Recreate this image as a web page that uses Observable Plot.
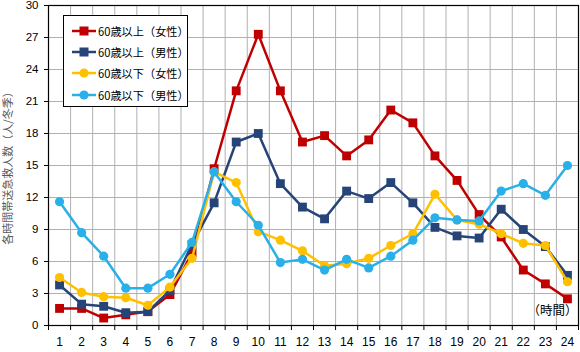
<!DOCTYPE html>
<html>
<head>
<meta charset="utf-8">
<script src="https://cdn.jsdelivr.net/npm/d3@7"></script>
<script src="https://cdn.jsdelivr.net/npm/@observablehq/plot@0.6"></script>
<style>
  html, body { margin: 0; padding: 0; background: #fff; }
  #wrap { position: relative; width: 580px; height: 352px; font-family: "Liberation Sans", Arial, sans-serif; }
  #legend { position: absolute; left: 63px; top: 15px; width: 125px; height: 92px; border: 1px solid #000; background: #fff; box-sizing: border-box; padding-top: 4px; }
  .row { display: flex; align-items: center; height: 21.3px; padding-left: 8px; white-space: nowrap; }
  .row svg { flex: none; }
  .row span { font-family: "Noto Sans CJK JP", sans-serif; font-size: 11.2px; margin-left: 2px; color: #000; white-space: nowrap; }
</style>
</head>
<body>
<div id="wrap"><div id="legend"></div></div>
<script>
const hours = d3.range(1, 25);
const seriesNames = ["60歳以上（女性）", "60歳以上（男性）", "60歳以下（女性）", "60歳以下（男性）"];
const seriesColors = ["#C00000", "#264478", "#FFC000", "#29B0E8"];
const seriesSymbols = ["square", "square", "circle", "circle"];

const over60Female = [1.6, 1.6, 0.7, 1.0, 1.3, 2.9, 6.8, 14.7, 22.0, 27.3, 22.0, 17.2, 17.8, 15.9, 17.4, 20.2, 19.0, 15.9, 13.6, 10.4, 8.3, 5.2, 3.9, 2.5];
const over60Male   = [3.8, 2.0, 1.8, 1.2, 1.3, 3.3, 7.6, 11.5, 17.2, 18.0, 13.3, 11.1, 10.0, 12.6, 11.9, 13.4, 11.5, 9.2, 8.4, 8.2, 10.9, 9.0, 7.4, 4.7];
const under60Female = [4.5, 3.1, 2.7, 2.6, 1.9, 3.6, 6.3, 14.4, 13.4, 8.8, 8.0, 7.0, 5.6, 5.8, 6.3, 7.5, 8.6, 12.3, 9.9, 9.5, 8.6, 7.7, 7.5, 4.1];
const under60Male  = [11.6, 8.7, 6.5, 3.5, 3.5, 4.8, 7.8, 14.4, 11.6, 9.4, 5.9, 6.2, 5.2, 6.2, 5.4, 6.5, 8.0, 10.1, 9.9, 9.8, 12.6, 13.3, 12.2, 15.0];
const seriesValues = [over60Female, over60Male, under60Female, under60Male];

const yTicks = d3.range(0, 31, 3);
const xBounds = d3.range(0.5, 25, 1);

const marks = [
  Plot.ruleY(yTicks.slice(1), {stroke: "#b0b0b0", strokeWidth: 1}),
  Plot.ruleX(xBounds.slice(1, -1), {stroke: "#b0b0b0", strokeWidth: 1}),
  Plot.frame({stroke: "#000", strokeWidth: 1.2}),
  Plot.axisY({ticks: yTicks, tickSize: 4, tickPadding: 6, fontSize: 11.5, label: null, tickFormat: d => d}),
  Plot.axisX({ticks: xBounds, tickSize: 5, tickFormat: () => "", label: null}),
  Plot.axisX({ticks: hours, tickSize: 0, tickPadding: 12, fontSize: 12, label: null, tickFormat: d => d}),
  Plot.text(["各時間帯送急救人数（人/冬季）"], {frameAnchor: "left", textAnchor: "middle", rotate: -90, dx: -40, fontSize: 11, fill: "#595959", fontFamily: "Noto Sans CJK JP"}),
  Plot.text(["（時間）"], {frameAnchor: "bottom-right", dx: -1, dy: -11, textAnchor: "end", fontSize: 12.5, fill: "#000", fontFamily: "Noto Sans CJK JP"})
];

seriesValues.forEach((vals, i) => {
  const data = hours.map((h, j) => ({h, v: vals[j]}));
  marks.push(Plot.line(data, {x: "h", y: "v", stroke: seriesColors[i], strokeWidth: 2.5}));
  marks.push(Plot.dot(data, {x: "h", y: "v", fill: seriesColors[i], stroke: "none", symbol: seriesSymbols[i], r: seriesSymbols[i] === "square" ? 5 : 4.6}));
});

const chart = Plot.plot({
  width: 580,
  height: 352,
  marginLeft: 48,
  marginRight: 2,
  marginTop: 5,
  marginBottom: 27,
  style: {fontFamily: "Liberation Sans, Arial, sans-serif", fontSize: "12px", color: "#000", background: "#fff", overflow: "visible"},
  x: {type: "linear", domain: [0.5, 24.5], axis: null},
  y: {domain: [0, 30], axis: null},
  marks
});
document.getElementById("wrap").prepend(chart);

const legend = document.getElementById("legend");
seriesNames.forEach((name, i) => {
  const row = document.createElement("div");
  row.className = "row";
  const sw = d3.create("svg").attr("width", 24).attr("height", 12);
  sw.append("line").attr("x1", 0).attr("x2", 24).attr("y1", 6).attr("y2", 6).attr("stroke", seriesColors[i]).attr("stroke-width", 2.5);
  if (seriesSymbols[i] === "square") sw.append("rect").attr("x", 7.5).attr("y", 1.5).attr("width", 9).attr("height", 9).attr("fill", seriesColors[i]);
  else sw.append("circle").attr("cx", 12).attr("cy", 6).attr("r", 4.6).attr("fill", seriesColors[i]);
  row.appendChild(sw.node());
  const t = document.createElement("span");
  t.textContent = name;
  row.appendChild(t);
  legend.appendChild(row);
});
</script>
</body>
</html>
